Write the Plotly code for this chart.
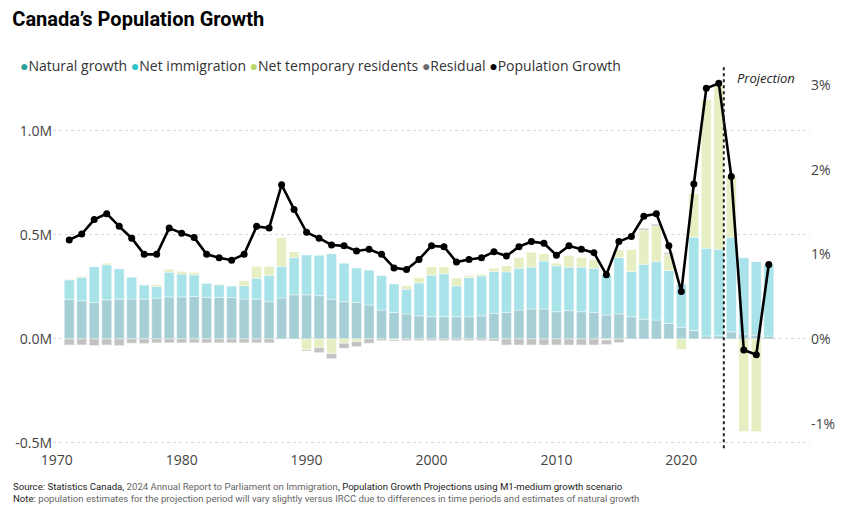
import plotly.graph_objects as go

years = list(range(1971, 2028))

# components of growth, millions of people
natural = [0.191, 0.183, 0.175, 0.188, 0.191, 0.192, 0.191, 0.196, 0.202, 0.202,
           0.204, 0.200, 0.200, 0.199, 0.192, 0.191, 0.179, 0.197, 0.212, 0.212,
           0.208, 0.191, 0.179, 0.175, 0.163, 0.139, 0.127, 0.120, 0.111, 0.107,
           0.107, 0.107, 0.107, 0.111, 0.123, 0.128, 0.139, 0.144, 0.144, 0.131,
           0.136, 0.131, 0.128, 0.115, 0.120, 0.107, 0.095, 0.091, 0.075, 0.056,
           0.040, 0.014, 0.015, 0.034, 0.024, 0.018, 0.014]

immigration = [0.093, 0.113, 0.173, 0.168, 0.147, 0.106, 0.069, 0.056, 0.119, 0.110,
               0.104, 0.068, 0.060, 0.056, 0.064, 0.101, 0.127, 0.151, 0.179, 0.192,
               0.194, 0.218, 0.185, 0.166, 0.169, 0.167, 0.137, 0.119, 0.158, 0.199,
               0.206, 0.148, 0.188, 0.192, 0.201, 0.194, 0.201, 0.201, 0.231, 0.220,
               0.209, 0.214, 0.212, 0.193, 0.271, 0.217, 0.264, 0.281, 0.254, 0.207,
               0.449, 0.422, 0.416, 0.455, 0.367, 0.354, 0.342]

temporary = [0.003, 0.005, 0.000, 0.008, 0.000, 0.000, 0.000, 0.008, 0.014, 0.013,
             0.011, 0.000, 0.004, 0.000, 0.023, 0.057, 0.043, 0.141, 0.029, -0.053,
             -0.042, -0.071, -0.021, -0.013, 0.000, 0.000, -0.004, 0.017, 0.026, 0.040,
             0.033, 0.037, 0.009, 0.008, 0.016, 0.029, 0.051, 0.072, 0.034, 0.013,
             0.054, 0.046, 0.040, -0.005, 0.037, 0.107, 0.165, 0.171, 0.078, -0.050,
             0.211, 0.716, 0.789, 0.291, -0.445, -0.445, 0.008]

residual = [-0.029, -0.029, -0.032, -0.029, -0.032, -0.021, -0.022, -0.019, -0.019, -0.019,
            -0.019, -0.019, -0.019, -0.019, -0.019, -0.019, -0.019, 0.000, 0.000, -0.005,
            -0.024, -0.024, -0.024, -0.024, -0.021, -0.008, -0.006, -0.008, -0.008, -0.008,
            -0.008, -0.008, -0.008, -0.008, -0.010, -0.029, -0.029, -0.029, -0.029, -0.029,
            -0.029, -0.029, -0.029, -0.022, -0.018, 0.000, 0.008, 0.008, 0.008, 0.000,
            0.000, 0.000, 0.000, 0.000, 0.000, 0.000, 0.000]

# population growth rate, %
growth_pct = [1.17, 1.24, 1.41, 1.48, 1.33, 1.19, 1.00, 1.00, 1.31, 1.25,
              1.20, 1.00, 0.96, 0.93, 1.00, 1.33, 1.31, 1.82, 1.53, 1.26,
              1.19, 1.11, 1.10, 1.04, 1.06, 1.00, 0.84, 0.82, 0.94, 1.10,
              1.09, 0.91, 0.94, 0.96, 1.03, 0.98, 1.09, 1.15, 1.13, 0.99,
              1.10, 1.06, 1.02, 0.76, 1.15, 1.21, 1.45, 1.48, 1.10, 0.56,
              1.83, 2.96, 3.02, 1.92, -0.13, -0.185, 0.88]

projection_start = 2023.4

series = [
    ("Natural growth", natural, "#a6cfd5", "#2e9e98"),
    ("Net immigration", immigration, "#a7e3e9", "#2ec4cc"),
    ("Net temporary residents", temporary, "#e5efc2", "#b8d86a"),
    ("Residual", residual, "#c2c2c2", "#6b6b6b"),
]

fig = go.Figure()
for name, vals, col, _ in series:
    fig.add_trace(go.Bar(x=years, y=vals, name=name, marker_color=col,
                         marker_line_color="rgba(255,255,255,0.7)", marker_line_width=0.6))

fig.add_trace(go.Scatter(x=years, y=growth_pct, name="Population Growth", yaxis="y2",
                         mode="lines+markers", line=dict(color="black", width=2.6),
                         marker=dict(color="black", size=7)))

# legend drawn as one line of text with coloured dots
legend_html = " ".join(
    f"<span style='color:{dot}'>●</span>{name}" for name, _, _, dot in series
) + " <span style='color:black'>●</span>Population Growth"

fig.add_annotation(text=legend_html, xref="paper", yref="paper", x=-0.046, y=1.024,
                   xanchor="left", yanchor="middle", showarrow=False,
                   font=dict(family="Open Sans", size=14, color="#333"))

fig.add_shape(type="line", x0=projection_start, x1=projection_start, xref="x",
              yref="paper", y0=0.005, y1=1.025,
              line=dict(color="#222", width=2, dash="dot"))
fig.add_annotation(text="<i>Projection</i>", x=projection_start + 0.9, xref="x",
                   y=0.993, yref="paper", xanchor="left", yanchor="middle", showarrow=False,
                   font=dict(family="Open Sans", size=13, color="#222"))

fig.add_annotation(
    text="Source: Statistics Canada, <span style='color:#666'>2024 Annual Report to Parliament on Immigration</span>, "
         "Population Growth Projections using M1-medium growth scenario<br>"
         "Note: <span style='color:#666'>population estimates for the projection period will vary slightly versus IRCC "
         "due to differences in time periods and estimates of natural growth</span>",
    xref="paper", yref="paper", x=-0.054, y=-0.081, xanchor="left", yanchor="top",
    align="left", showarrow=False, borderpad=0,
    font=dict(family="Roboto", size=9.6, color="#222"))

# the page body adds an 8px offset, so margins are shifted to compensate
fig.update_layout(
    width=864, height=512,
    margin=dict(l=45, r=62, t=67, b=70),
    paper_bgcolor="white", plot_bgcolor="white",
    barmode="relative", bargap=0.2,
    showlegend=False,
    title=dict(text="<b>Canada’s Population Growth</b>", x=0.005, xanchor="left",
               y=0.978, yanchor="middle",
               font=dict(family="Roboto", size=20, color="black")),
    xaxis=dict(range=[1969.7, 2030.3], tickvals=[1970, 1980, 1990, 2000, 2010, 2020],
               showgrid=False, zeroline=False, showline=False, ticks="", automargin=False,
               tickfont=dict(family="Open Sans", size=14, color="#444")),
    yaxis=dict(range=[-0.534, 1.269], tickvals=[-0.5, 0, 0.5, 1.0],
               ticktext=["-0.5M", "0.0M", "0.5M", "1.0M"],
               showgrid=True, gridcolor="#d9d9d9", griddash="dot", gridwidth=1,
               zeroline=False, ticks="", automargin=False,
               tickfont=dict(family="Open Sans", size=14, color="#444")),
    yaxis2=dict(range=[-1.31, 3.117], overlaying="y", side="right",
                tickvals=[-1, 0, 1, 2, 3], ticktext=["-1%", "0%", "1%", "2%", "3%"],
                showgrid=False, zeroline=False, ticks="", automargin=False,
                tickfont=dict(family="Open Sans", size=14, color="#444")),
)

fig.write_html("out.html")
